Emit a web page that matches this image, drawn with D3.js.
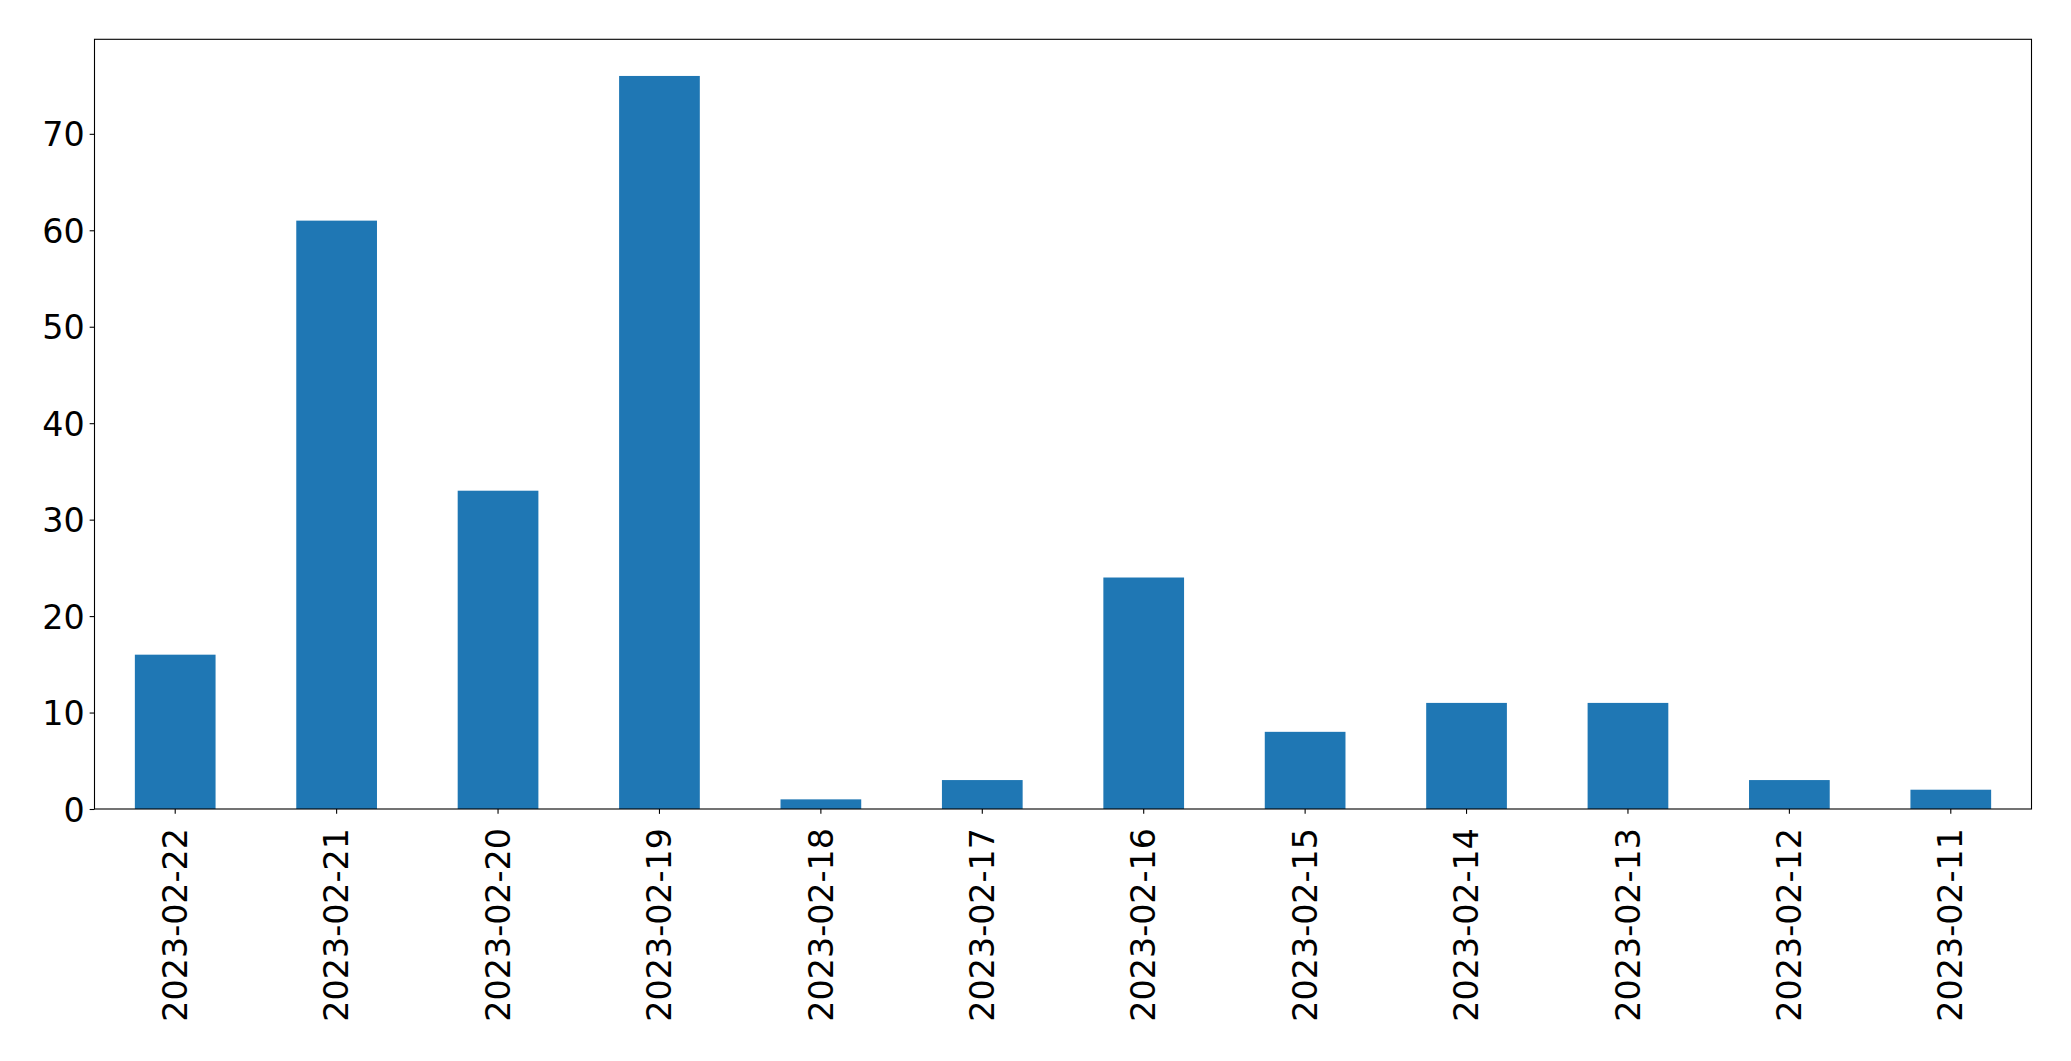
<!DOCTYPE html>
<html>
<head>
<meta charset="utf-8">
<script src="https://cdn.jsdelivr.net/npm/d3@7"></script>
<style>
  html, body { margin: 0; padding: 0; background: #fff; }
  svg { display: block; }
</style>
</head>
<body>
<svg id="chart" width="2071" height="1061"></svg>
<script>
const categories = ["2023-02-22","2023-02-21","2023-02-20","2023-02-19","2023-02-18","2023-02-17","2023-02-16","2023-02-15","2023-02-14","2023-02-13","2023-02-12","2023-02-11"];
const values = [16, 61, 33, 76, 1, 3, 24, 8, 11, 11, 3, 2];
const yTicks = [0, 10, 20, 30, 40, 50, 60, 70];

(function () {
const plotLeft = 94.5, plotRight = 2031.5, plotTop = 39.3, plotBottom = 809;
const fontSize = 33.33;
const tickLen = 4.86;

const svg = d3.select("#chart");

const x = d3.scaleBand().domain(categories).range([plotLeft, plotRight]).paddingInner(0.5).paddingOuter(0.25);
const y = d3.scaleLinear().domain([0, d3.max(values) * 1.05]).range([plotBottom, plotTop]);

// bars
svg.append("g").selectAll("rect").data(values).join("rect")
  .attr("x", (d, i) => x(categories[i]))
  .attr("width", x.bandwidth())
  .attr("y", d => y(d))
  .attr("height", d => y(0) - y(d))
  .attr("fill", "#1f77b4");

// y axis
const yAxis = svg.append("g").attr("transform", `translate(${plotLeft},0)`)
  .call(d3.axisLeft(y).tickValues(yTicks).tickFormat(d3.format("d")).tickSize(tickLen).tickSizeOuter(0).tickPadding(5));
yAxis.select(".domain").remove();
yAxis.selectAll("line").attr("stroke", "#000").attr("stroke-width", 1.1);
yAxis.selectAll("text").attr("font-family", "'DejaVu Sans', sans-serif").attr("font-size", fontSize).attr("fill", "#000").attr("dy", "0.36em");

// x axis
const xAxis = svg.append("g").attr("transform", `translate(0,${plotBottom})`)
  .call(d3.axisBottom(x).tickSize(tickLen).tickSizeOuter(0).tickPadding(0));
xAxis.select(".domain").remove();
xAxis.selectAll("line").attr("stroke", "#000").attr("stroke-width", 1.1);
xAxis.selectAll("text")
  .attr("font-family", "'DejaVu Sans', sans-serif").attr("font-size", fontSize).attr("fill", "#000")
  .attr("text-anchor", "end")
  .attr("transform", "translate(0,19) rotate(-90)")
  .attr("x", 0).attr("y", 0).attr("dy", "0.35em");

// frame
svg.append("rect")
  .attr("x", plotLeft).attr("y", plotTop)
  .attr("width", plotRight - plotLeft).attr("height", plotBottom - plotTop)
  .attr("fill", "none").attr("stroke", "#000").attr("stroke-width", 1.1);
})();
</script>
</body>
</html>
